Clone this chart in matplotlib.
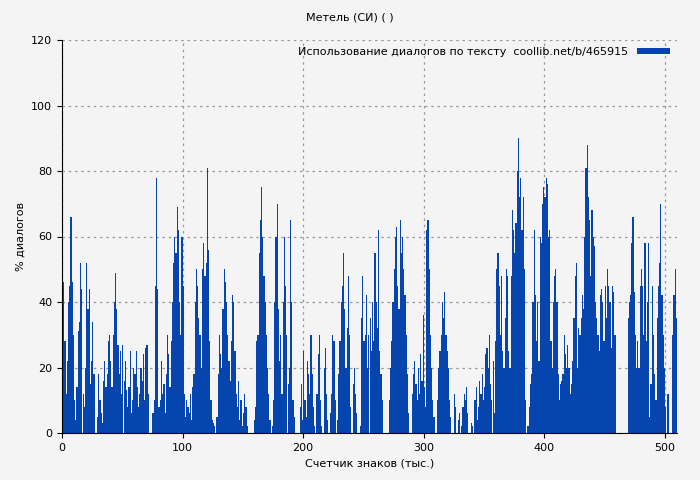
import matplotlib
matplotlib.use("Agg")
from matplotlib import pyplot as plt
import numpy as np

# % of dialogue per 1000 characters
dialog_pct = [
    35, 46, 28, 12, 22, 40, 45, 66, 46, 30,
    10, 4, 14, 31, 34, 52, 44, 12, 8, 20,
    52, 38, 44, 15, 22, 34, 18, 0, 0, 5,
    18, 10, 6, 3, 16, 22, 14, 18, 28, 30,
    22, 14, 30, 40, 49, 38, 27, 18, 25, 12,
    27, 16, 22, 13, 8, 14, 25, 6, 10, 20,
    18, 25, 14, 8, 12, 20, 16, 24, 10, 26,
    27, 12, 0, 0, 0, 6, 10, 45, 78, 44,
    8, 10, 22, 12, 15, 6, 18, 30, 24, 14,
    28, 40, 52, 60, 55, 69, 62, 40, 30, 60,
    45, 12, 5, 10, 8, 6, 12, 4, 14, 18,
    40, 50, 45, 35, 30, 20, 50, 58, 48, 52,
    81, 56, 28, 10, 4, 3, 2, 0, 5, 18,
    30, 24, 20, 38, 50, 46, 40, 30, 22, 16,
    28, 42, 40, 25, 12, 8, 16, 4, 10, 2,
    6, 12, 8, 2, 0, 0, 0, 0, 0, 4,
    8, 28, 30, 55, 65, 75, 60, 48, 40, 30,
    20, 12, 4, 0, 2, 10, 40, 60, 70, 38,
    22, 30, 12, 40, 60, 45, 30, 15, 20, 65,
    40, 10, 5, 0, 0, 0, 0, 8, 15, 4,
    25, 10, 5, 22, 18, 12, 30, 18, 8, 2,
    0, 12, 24, 30, 10, 2, 0, 20, 26, 12,
    4, 0, 6, 12, 30, 28, 10, 0, 4, 18,
    28, 40, 45, 55, 38, 20, 32, 48, 30, 8,
    0, 15, 20, 12, 6, 0, 0, 2, 35, 48,
    28, 30, 42, 20, 30, 35, 25, 40, 28, 55,
    40, 32, 62, 25, 18, 10, 0, 0, 0, 0,
    0, 10, 20, 28, 40, 50, 60, 63, 45, 38,
    65, 55, 60, 50, 42, 30, 18, 6, 0, 0,
    12, 18, 22, 15, 10, 20, 12, 24, 16, 36,
    14, 8, 62, 65, 50, 30, 20, 10, 5, 0,
    0, 10, 20, 25, 30, 40, 35, 43, 30, 25,
    20, 10, 5, 0, 0, 12, 8, 0, 4, 6,
    0, 2, 8, 12, 10, 14, 6, 0, 0, 3,
    2, 0, 10, 14, 4, 8, 16, 12, 18, 10,
    14, 24, 26, 20, 30, 15, 10, 22, 6, 28,
    50, 55, 45, 30, 48, 25, 20, 35, 50, 48,
    25, 20, 48, 68, 62, 55, 64, 80, 90, 72,
    78, 62, 72, 50, 10, 0, 2, 8, 15, 18,
    40, 62, 42, 28, 40, 22, 60, 58, 70, 75,
    72, 78, 76, 60, 62, 28, 20, 40, 48, 50,
    40, 18, 10, 15, 16, 18, 30, 24, 20, 27,
    20, 12, 15, 22, 35, 48, 52, 20, 32, 30,
    35, 42, 38, 60, 81, 88, 72, 65, 48, 68,
    60, 57, 40, 35, 30, 25, 42, 44, 40, 28,
    45, 35, 50, 45, 40, 26, 45, 43, 30, 0,
    0, 0, 0, 0, 0, 0, 0, 0, 0, 35,
    40, 42, 58, 66, 43, 30, 20, 28, 20, 45,
    50, 45, 30, 58, 28, 40, 58, 5, 15, 45,
    30, 18, 10, 35, 45, 52, 70, 42, 30, 20,
    8, 0, 12, 0, 0, 0, 30, 42, 50, 35,
]
chars_k = np.arange(len(dialog_pct))

BG = "#f4f4f4"
BAR = "#0645ad"

plt.rcParams["font.size"] = 8
fig = plt.figure(figsize=(7, 4.8), dpi=100, facecolor=BG)
ax = fig.add_axes([62 / 700, 47 / 480, 615 / 700, 393 / 480], facecolor=BG)

ax.bar(chars_k, dialog_pct, width=1.0, align="edge", color=BAR, linewidth=0,
       label="Использование диалогов по тексту  coollib.net/b/465915", zorder=2)

ax.set_xlim(0, 510)
ax.set_ylim(0, 120)
ax.set_xticks(range(0, 501, 100))
ax.set_yticks(range(0, 121, 20))
ax.grid(True, linestyle=(0, (2, 3)), color="#999999", linewidth=0.9, zorder=1)
for side in ("top", "right"):
    ax.spines[side].set_visible(False)

ax.set_xlabel("Счетчик знаков (тыс.)")
ax.set_ylabel("% диалогов")
fig.text(0.5, 1 - 18 / 480, "Метель (СИ) ( )", ha="center", va="center", fontsize=8)
ax.legend(loc="upper right", frameon=False, fontsize=8, handlelength=3,
          handleheight=0.5, borderaxespad=0.2, markerfirst=False)

fig.savefig("out.png", dpi=100, facecolor=BG)
